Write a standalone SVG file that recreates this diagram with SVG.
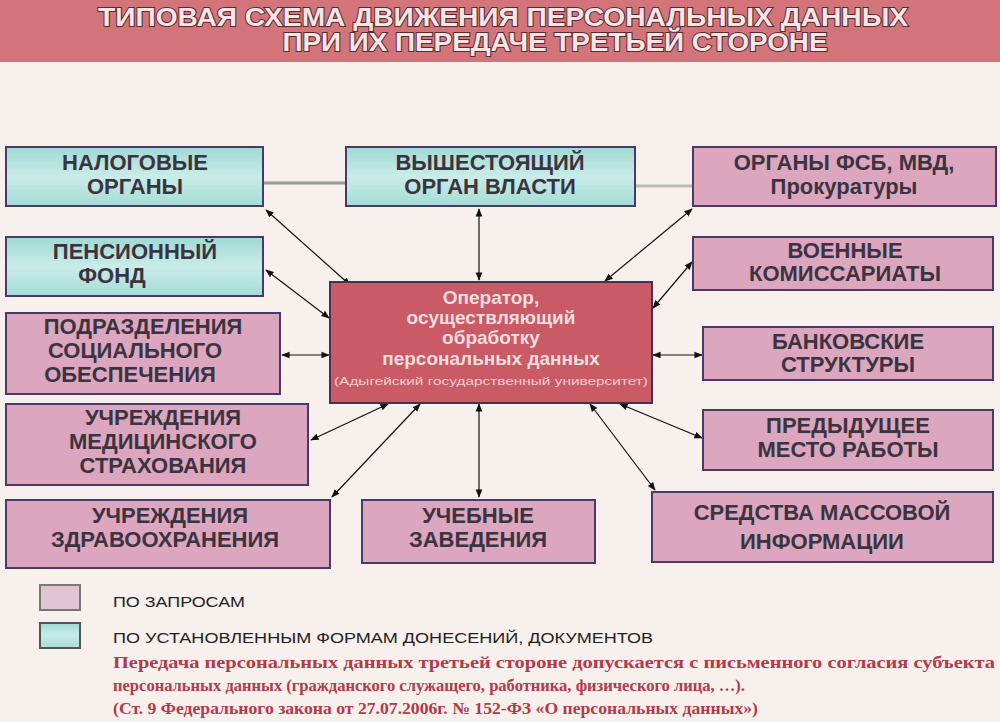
<svg xmlns="http://www.w3.org/2000/svg" width="1000" height="722" viewBox="0 0 1000 722">
<defs>
<marker id="a" viewBox="0 0 10 10" refX="9" refY="5" markerWidth="7" markerHeight="7" orient="auto-start-reverse"><path d="M0,1 L10,5 L0,9 z" fill="#111"/></marker>
<linearGradient id="tg" x1="0" y1="0" x2="0" y2="1"><stop offset="0" stop-color="#9fd9d4"/><stop offset="0.5" stop-color="#c9ece8"/><stop offset="1" stop-color="#a5dcd6"/></linearGradient>
</defs>
<style>
.t{fill:url(#tg);stroke:#4a3a6a;stroke-width:2}
.p{fill:#dba6be;stroke:#4a3a6a;stroke-width:2}
.n{font-family:"Liberation Sans",Arial,sans-serif;font-weight:bold;font-size:22px;fill:#3b3440;text-anchor:middle}
.c line{stroke:#111;stroke-width:1.2;marker-start:url(#a);marker-end:url(#a)}
.lg{font-family:"Liberation Sans",Arial,sans-serif;font-size:15px;fill:#222}
.r{font-family:"Liberation Serif","Times New Roman",serif;font-weight:bold;font-size:17px;fill:#b23a4a}
.ti{font-family:"Liberation Sans",Arial,sans-serif;font-weight:bold;font-size:26px;fill:#f7e6e6;stroke:#5a2a30;stroke-width:2;paint-order:stroke;text-anchor:middle}
.ct{font-family:"Liberation Sans",Arial,sans-serif;font-weight:bold;font-size:19px;fill:#f5dede;text-anchor:middle}
</style>
<rect width="1000" height="722" fill="#f7f0ec"/>
<rect width="1000" height="62" fill="#d27479"/>
<text class="ti" x="503" y="26" textLength="810" lengthAdjust="spacingAndGlyphs">ТИПОВАЯ СХЕМА ДВИЖЕНИЯ ПЕРСОНАЛЬНЫХ ДАННЫХ</text>
<text class="ti" x="555" y="51" textLength="545" lengthAdjust="spacingAndGlyphs">ПРИ ИХ ПЕРЕДАЧЕ ТРЕТЬЕЙ СТОРОНЕ</text>
<line x1="263" y1="183" x2="346" y2="183" stroke="#999" stroke-width="3"/>
<line x1="635" y1="186" x2="693" y2="186" stroke="#bbb" stroke-width="3"/>
<g class="c" id="connectors">
<line x1="266" y1="210" x2="350" y2="285"/>
<line x1="479" y1="209" x2="479" y2="280"/>
<line x1="692" y1="209" x2="605" y2="281"/>
<line x1="266" y1="270" x2="329" y2="318"/>
<line x1="692" y1="262" x2="653" y2="308"/>
<line x1="282" y1="355" x2="329" y2="355"/>
<line x1="702" y1="355" x2="653" y2="355"/>
<line x1="311" y1="440" x2="388" y2="404"/>
<line x1="702" y1="438" x2="620" y2="404"/>
<line x1="332" y1="497" x2="420" y2="404"/>
<line x1="479" y1="497" x2="479" y2="404"/>
<line x1="655" y1="490" x2="590" y2="404"/>
</g>
<g id="n1"><rect class="t" x="6" y="147" width="257" height="59"/><text class="n" x="135" y="170">НАЛОГОВЫЕ</text><text class="n" x="135" y="194">ОРГАНЫ</text></g>
<g id="n2"><rect class="t" x="346" y="147" width="289" height="59"/><text class="n" x="490" y="170">ВЫШЕСТОЯЩИЙ</text><text class="n" x="490" y="194">ОРГАН ВЛАСТИ</text></g>
<g id="n3"><rect class="p" x="693" y="147" width="303" height="59"/><text class="n" x="844" y="170">ОРГАНЫ ФСБ, МВД,</text><text class="n" x="844" y="194">Прокуратуры</text></g>
<g id="n4"><rect class="t" x="6" y="237" width="257" height="59"/><text class="n" x="135" y="259">ПЕНСИОННЫЙ</text><text class="n" x="112" y="283">ФОНД</text></g>
<g id="n5"><rect class="p" x="693" y="237" width="300" height="53"/><text class="n" x="845" y="258">ВОЕННЫЕ</text><text class="n" x="845" y="281">КОМИССАРИАТЫ</text></g>
<g id="n6"><rect class="p" x="6" y="313" width="274" height="81"/><text class="n" x="143" y="334">ПОДРАЗДЕЛЕНИЯ</text><text class="n" x="135" y="358">СОЦИАЛЬНОГО</text><text class="n" x="130" y="382">ОБЕСПЕЧЕНИЯ</text></g>
<g id="n7"><rect class="p" x="703" y="327" width="290" height="53"/><text class="n" x="848" y="349">БАНКОВСКИЕ</text><text class="n" x="848" y="372">СТРУКТУРЫ</text></g>
<g id="n8"><rect class="p" x="6" y="404" width="302" height="81"/><text class="n" x="163" y="425">УЧРЕЖДЕНИЯ</text><text class="n" x="163" y="449">МЕДИЦИНСКОГО</text><text class="n" x="163" y="473">СТРАХОВАНИЯ</text></g>
<g id="n9"><rect class="p" x="703" y="410" width="290" height="60"/><text class="n" x="848" y="433">ПРЕДЫДУЩЕЕ</text><text class="n" x="848" y="457">МЕСТО РАБОТЫ</text></g>
<g id="n10"><rect class="p" x="6" y="500" width="324" height="68"/><text class="n" x="170" y="523">УЧРЕЖДЕНИЯ</text><text class="n" x="165" y="547">ЗДРАВООХРАНЕНИЯ</text></g>
<g id="n11"><rect class="p" x="362" y="500" width="233" height="63"/><text class="n" x="478" y="523">УЧЕБНЫЕ</text><text class="n" x="478" y="547">ЗАВЕДЕНИЯ</text></g>
<g id="n12"><rect class="p" x="652" y="492" width="341" height="70"/><text class="n" x="822" y="520">СРЕДСТВА МАССОВОЙ</text><text class="n" x="822" y="549">ИНФОРМАЦИИ</text></g>
<g id="center"><rect x="330" y="282" width="322" height="121" fill="#c95a66" stroke="#4a3050" stroke-width="2"/>
<text class="ct" x="491" y="304">Оператор,</text><text class="ct" x="491" y="324">осуществляющий</text><text class="ct" x="491" y="344">обработку</text><text class="ct" x="491" y="365">персональных данных</text>
<text x="491" y="385" font-family="'Liberation Sans',Arial,sans-serif" font-size="10" fill="#f0d0d0" text-anchor="middle" textLength="314" lengthAdjust="spacingAndGlyphs">(Адыгейский государственный университет)</text></g>
<g id="legend">
<rect x="40" y="585" width="40" height="25" fill="#e2c3d3" stroke="#777" stroke-width="2"/>
<rect x="40" y="623" width="40" height="25" fill="url(#tg)" stroke="#555" stroke-width="2"/>
<text class="lg" x="113" y="607" textLength="132" lengthAdjust="spacingAndGlyphs">ПО ЗАПРОСАМ</text>
<text class="lg" x="113" y="643" textLength="540" lengthAdjust="spacingAndGlyphs">ПО УСТАНОВЛЕННЫМ ФОРМАМ ДОНЕСЕНИЙ, ДОКУМЕНТОВ</text>
<text class="r" x="113" y="668" textLength="882" lengthAdjust="spacingAndGlyphs">Передача персональных данных третьей стороне допускается с письменного согласия субъекта</text>
<text class="r" x="113" y="691" textLength="632" lengthAdjust="spacingAndGlyphs">персональных данных (гражданского служащего, работника, физического лица, …).</text>
<text class="r" x="113" y="714" textLength="645" lengthAdjust="spacingAndGlyphs">(Ст. 9 Федерального закона от 27.07.2006г. № 152-ФЗ «О персональных данных»)</text>
</g>
</svg>
